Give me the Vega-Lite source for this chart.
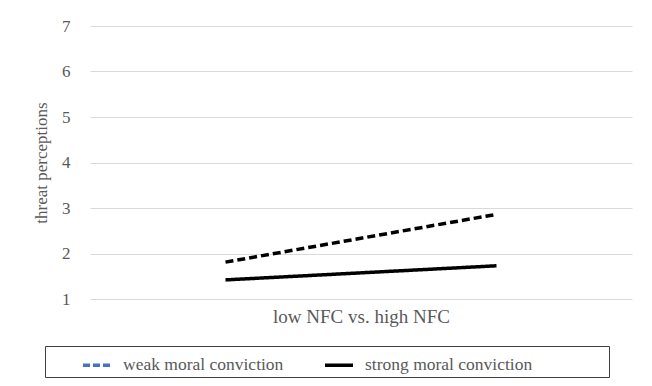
{
  "$schema": "https://vega.github.io/schema/vega-lite/v6.json",
  "width": 542,
  "height": 273,
  "autosize": {"type": "none"},
  "padding": {"left": 90, "top": 26, "right": 20, "bottom": 87},
  "background": "#ffffff",
  "config": {
    "view": {"stroke": null},
    "font": "Liberation Serif",
    "axis": {"labelFont": "Liberation Serif", "titleFont": "Liberation Serif", "labelColor": "#595959", "titleColor": "#595959", "titleFontWeight": "normal"},
    "legend": {"labelFont": "Liberation Serif", "titleFont": "Liberation Serif"}
  },
  "data": {
    "values": [
      {"series": "weak moral conviction", "nfc": "low NFC", "threat": 1.81},
      {"series": "weak moral conviction", "nfc": "high NFC", "threat": 2.86},
      {"series": "strong moral conviction", "nfc": "low NFC", "threat": 1.42},
      {"series": "strong moral conviction", "nfc": "high NFC", "threat": 1.73}
    ]
  },
  "encoding": {
    "x": {
      "field": "nfc", "type": "ordinal", "sort": ["low NFC", "high NFC"],
      "scale": {"type": "point", "padding": 0.5},
      "axis": {"title": "low NFC vs. high NFC", "labels": false, "ticks": false, "domain": false, "grid": false, "titleFontSize": 19, "titlePadding": 8}
    },
    "y": {
      "field": "threat", "type": "quantitative",
      "scale": {"domain": [1, 7], "nice": false, "zero": false},
      "axis": {"title": "threat perceptions", "values": [1,2,3,4,5,6,7], "ticks": false, "domain": false, "gridColor": "#d9d9d9", "labelFontSize": 17, "labelPadding": 20, "titleFontSize": 17, "titlePadding": 11}
    }
  },
  "layer": [
    {
      "mark": {"type": "line", "strokeWidth": 3.5, "opacity": 0},
      "encoding": {
        "color": {
          "field": "series", "type": "nominal",
          "scale": {"domain": ["weak moral conviction", "strong moral conviction"], "range": ["#4472c4", "#000000"]},
          "legend": {
            "title": "\u00a0", "titleOrient": "right", "titlePadding": 74, "titleFontSize": 17,
            "orient": "none", "legendX": -45, "legendY": 320, "direction": "horizontal",
            "symbolType": "stroke", "symbolSize": 784, "symbolStrokeWidth": 3.5, "symbolOpacity": 1,
            "symbolOffset": 33,
            "labelFontSize": 17.5, "labelColor": "#595959", "labelLimit": 400,
            "strokeColor": "#404040", "fillColor": "#ffffff", "padding": 3,
            "columnPadding": 6, "labelOffset": 10,
            "encode": {"symbols": {"update": {"strokeDash": {"signal": "datum.value === 'weak moral conviction' ? [7, 3] : [1, 0]"}, "opacity": {"value": 1}}}}
          }
        }
      }
    },
    {
      "mark": {"type": "line", "color": "#000000", "strokeWidth": 3.5},
      "encoding": {
        "detail": {"field": "series", "type": "nominal"},
        "strokeDash": {"condition": {"test": "datum.series === 'weak moral conviction'", "value": [8, 4]}, "value": [1, 0]}
      }
    }
  ]
}
